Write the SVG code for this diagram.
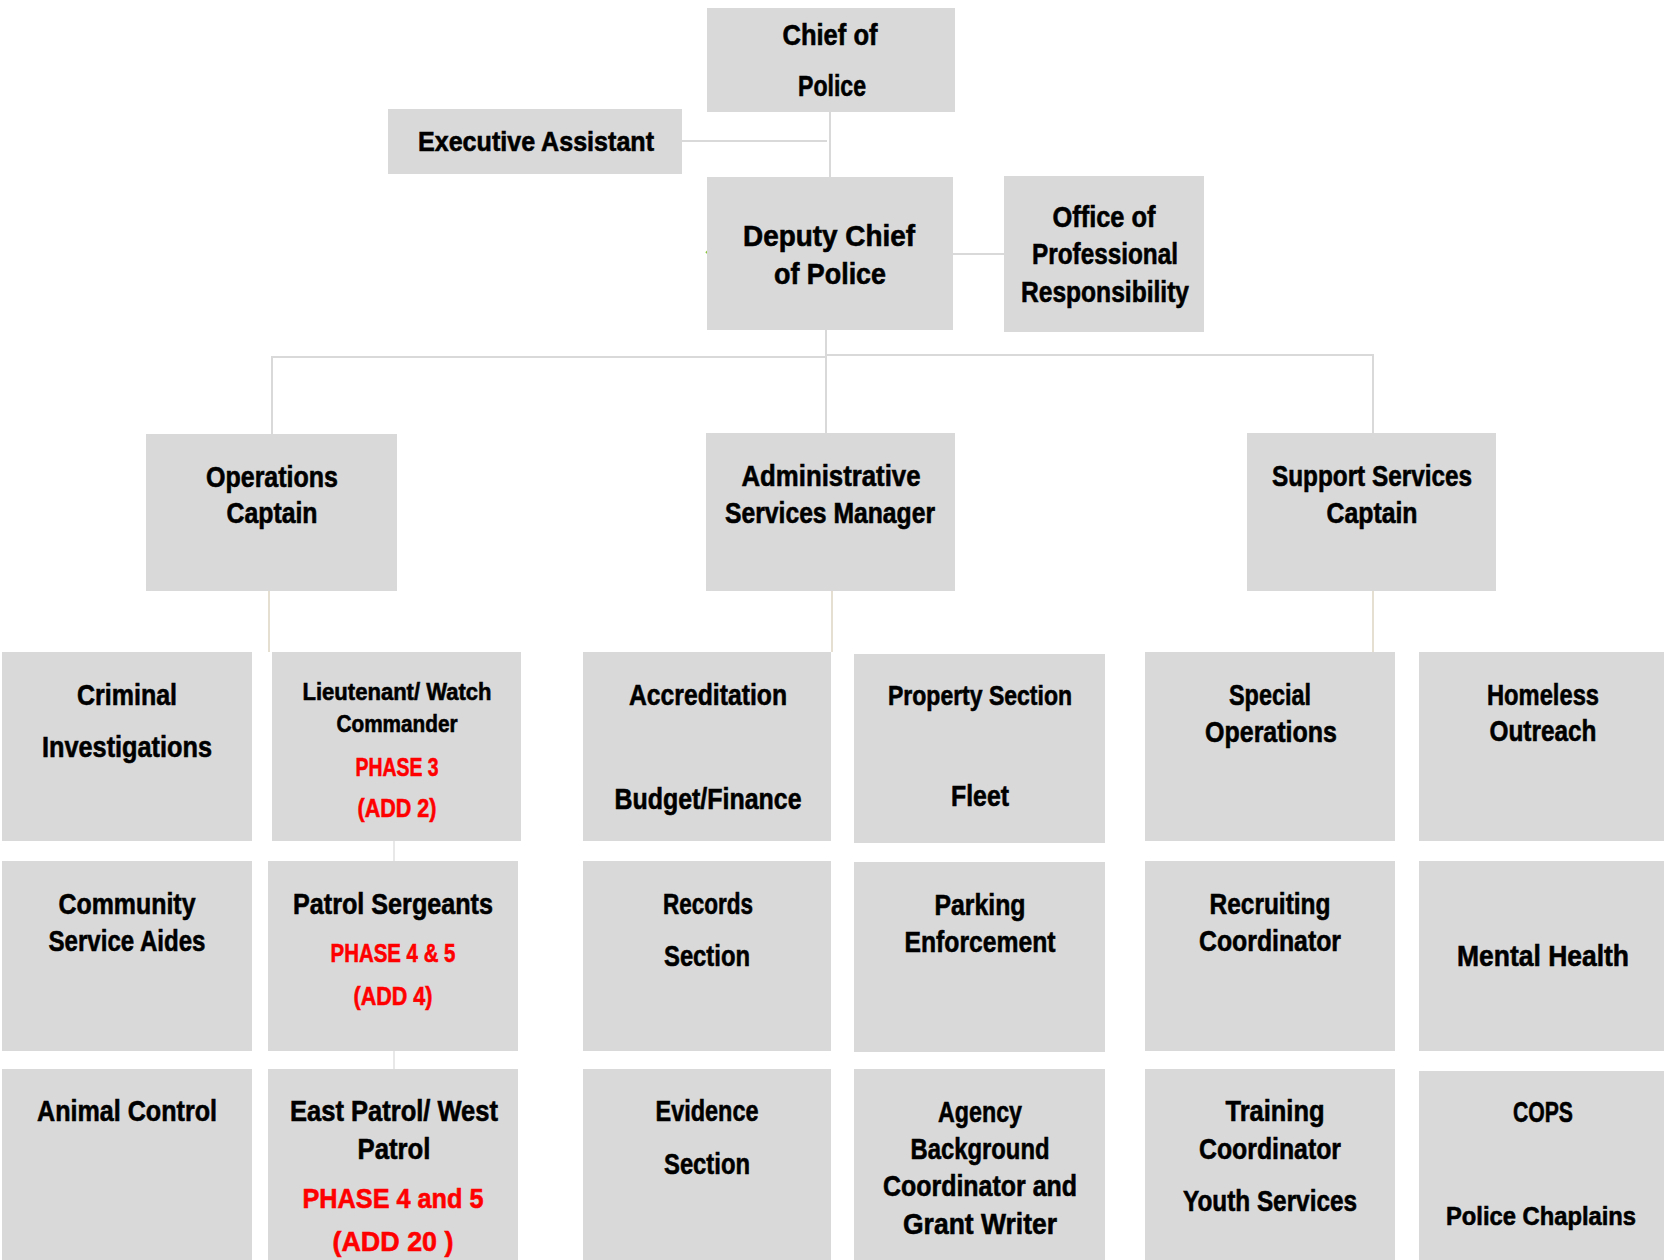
<svg xmlns="http://www.w3.org/2000/svg" width="1664" height="1260" viewBox="0 0 1664 1260">
<style>
.box{fill:#D9D9D9}
.ln{stroke:#D9D9D9;stroke-width:2;fill:none}
.lb{stroke:#E4DFD1;stroke-width:2;fill:none}
.lf{stroke:#E8E8E8;stroke-width:2;fill:none}
text{font-family:"Liberation Sans Narrow","Liberation Sans",Arial,sans-serif;font-weight:bold;text-anchor:middle;fill:#000;stroke:#000;stroke-width:0.6}
.top{font-size:29px}
.low{font-size:30px;font-family:"Liberation Sans",Arial,sans-serif}
.sm{font-size:24px;font-family:"Liberation Sans",Arial,sans-serif}
.rd{font-size:26px;font-family:"Liberation Sans",Arial,sans-serif;fill:#FF0000;stroke:#FF0000}
.rd2{font-size:28px;font-family:"Liberation Sans",Arial,sans-serif;fill:#FF0000;stroke:#FF0000}
</style>
<rect width="1664" height="1260" fill="#FFFFFF"/>
<g id="connectors">
<line class="ln" x1="830" y1="112" x2="830" y2="177"/>
<line class="ln" x1="682" y1="141" x2="827" y2="141"/>
<line class="ln" x1="953" y1="254" x2="1004" y2="254"/>
<line class="ln" x1="826" y1="330" x2="826" y2="433"/>
<polyline class="ln" points="272,434 272,357 826,357"/>
<polyline class="ln" points="826,355 1373,355 1373,433"/>
<line class="lb" x1="269" y1="591" x2="269" y2="652"/>
<line class="lb" x1="832" y1="591" x2="832" y2="652"/>
<line class="lb" x1="1373" y1="591" x2="1373" y2="652"/>
<line class="lf" x1="394" y1="841" x2="394" y2="861"/>
<line class="lf" x1="394" y1="1051" x2="394" y2="1069"/>
<line x1="706" y1="253" x2="716" y2="243" stroke="#8CC63F" stroke-width="2"/>
</g>
<g id="chief"><rect class="box" x="707" y="8" width="248" height="104"/>
<text class="top" x="830" y="45" textLength="95" lengthAdjust="spacingAndGlyphs">Chief of</text>
<text class="top" x="832" y="96" textLength="68" lengthAdjust="spacingAndGlyphs">Police</text></g>
<g id="exec"><rect class="box" x="388" y="109" width="294" height="65"/>
<text class="top" style="font-size:27px" x="536" y="151" textLength="236" lengthAdjust="spacingAndGlyphs">Executive Assistant</text></g>
<g id="deputy"><rect class="box" x="707" y="177" width="246" height="153"/>
<text class="top" x="829" y="246" textLength="172" lengthAdjust="spacingAndGlyphs">Deputy Chief</text>
<text class="top" x="830" y="284" textLength="112" lengthAdjust="spacingAndGlyphs">of Police</text></g>
<g id="opr"><rect class="box" x="1004" y="176" width="200" height="156"/>
<text class="top" x="1104" y="227" textLength="103" lengthAdjust="spacingAndGlyphs">Office of</text>
<text class="top" x="1105" y="264" textLength="146" lengthAdjust="spacingAndGlyphs">Professional</text>
<text class="top" x="1105" y="302" textLength="168" lengthAdjust="spacingAndGlyphs">Responsibility</text></g>
<g id="ops"><rect class="box" x="146" y="434" width="251" height="157"/>
<text class="top" x="272" y="487" textLength="132" lengthAdjust="spacingAndGlyphs">Operations</text>
<text class="top" x="272" y="523" textLength="91" lengthAdjust="spacingAndGlyphs">Captain</text></g>
<g id="admin"><rect class="box" x="706" y="433" width="249" height="158"/>
<text class="top" x="831" y="486" textLength="179" lengthAdjust="spacingAndGlyphs">Administrative</text>
<text class="top" x="830" y="523" textLength="210" lengthAdjust="spacingAndGlyphs">Services Manager</text></g>
<g id="support"><rect class="box" x="1247" y="433" width="249" height="158"/>
<text class="top" x="1372" y="486" textLength="200" lengthAdjust="spacingAndGlyphs">Support Services</text>
<text class="top" x="1372" y="523" textLength="91" lengthAdjust="spacingAndGlyphs">Captain</text></g>

<g id="criminal"><rect class="box" x="2" y="652" width="250" height="189"/>
<text class="low" x="127" y="705" textLength="100" lengthAdjust="spacingAndGlyphs">Criminal</text>
<text class="low" x="127" y="757" textLength="170" lengthAdjust="spacingAndGlyphs">Investigations</text></g>
<g id="lieutenant"><rect class="box" x="272" y="652" width="249" height="189"/>
<text class="sm" x="397" y="700" textLength="189" lengthAdjust="spacingAndGlyphs">Lieutenant/ Watch</text>
<text class="sm" x="397" y="732" textLength="121" lengthAdjust="spacingAndGlyphs">Commander</text>
<text class="rd" x="397" y="776" textLength="83" lengthAdjust="spacingAndGlyphs">PHASE 3</text>
<text class="rd" x="397" y="817" textLength="79" lengthAdjust="spacingAndGlyphs">(ADD 2)</text></g>
<g id="accreditation"><rect class="box" x="583" y="652" width="248" height="189"/>
<text class="low" x="708" y="705" textLength="158" lengthAdjust="spacingAndGlyphs">Accreditation</text>
<text class="low" x="708" y="809" textLength="187" lengthAdjust="spacingAndGlyphs">Budget/Finance</text></g>
<g id="property"><rect class="box" x="854" y="654" width="251" height="189"/>
<text class="low" style="font-size:28px" x="980" y="705" textLength="184" lengthAdjust="spacingAndGlyphs">Property Section</text>
<text class="low" x="980" y="806" textLength="58" lengthAdjust="spacingAndGlyphs">Fleet</text></g>
<g id="special"><rect class="box" x="1145" y="652" width="250" height="189"/>
<text class="low" x="1270" y="705" textLength="82" lengthAdjust="spacingAndGlyphs">Special</text>
<text class="low" x="1271" y="742" textLength="132" lengthAdjust="spacingAndGlyphs">Operations</text></g>
<g id="homeless"><rect class="box" x="1419" y="652" width="245" height="189"/>
<text class="low" x="1543" y="705" textLength="112" lengthAdjust="spacingAndGlyphs">Homeless</text>
<text class="low" x="1543" y="741" textLength="107" lengthAdjust="spacingAndGlyphs">Outreach</text></g>

<g id="community"><rect class="box" x="2" y="861" width="250" height="190"/>
<text class="low" x="127" y="914" textLength="137" lengthAdjust="spacingAndGlyphs">Community</text>
<text class="low" x="127" y="951" textLength="157" lengthAdjust="spacingAndGlyphs">Service Aides</text></g>
<g id="sergeants"><rect class="box" x="268" y="861" width="250" height="190"/>
<text class="low" x="393" y="914" textLength="200" lengthAdjust="spacingAndGlyphs">Patrol Sergeants</text>
<text class="rd" x="393" y="962" textLength="125" lengthAdjust="spacingAndGlyphs">PHASE 4 &amp; 5</text>
<text class="rd" x="393" y="1005" textLength="79" lengthAdjust="spacingAndGlyphs">(ADD 4)</text></g>
<g id="records"><rect class="box" x="583" y="861" width="248" height="190"/>
<text class="low" x="708" y="914" textLength="90" lengthAdjust="spacingAndGlyphs">Records</text>
<text class="low" x="707" y="966" textLength="86" lengthAdjust="spacingAndGlyphs">Section</text></g>
<g id="parking"><rect class="box" x="854" y="862" width="251" height="190"/>
<text class="low" x="980" y="915" textLength="91" lengthAdjust="spacingAndGlyphs">Parking</text>
<text class="low" x="980" y="952" textLength="151" lengthAdjust="spacingAndGlyphs">Enforcement</text></g>
<g id="recruiting"><rect class="box" x="1145" y="861" width="250" height="190"/>
<text class="low" x="1270" y="914" textLength="121" lengthAdjust="spacingAndGlyphs">Recruiting</text>
<text class="low" x="1270" y="951" textLength="142" lengthAdjust="spacingAndGlyphs">Coordinator</text></g>
<g id="mental"><rect class="box" x="1419" y="861" width="245" height="190"/>
<text class="low" x="1543" y="966" textLength="172" lengthAdjust="spacingAndGlyphs">Mental Health</text></g>

<g id="animal"><rect class="box" x="2" y="1069" width="250" height="191"/>
<text class="low" x="127" y="1121" textLength="180" lengthAdjust="spacingAndGlyphs">Animal Control</text></g>
<g id="eastpatrol"><rect class="box" x="268" y="1069" width="250" height="191"/>
<text class="low" x="394" y="1121" textLength="208" lengthAdjust="spacingAndGlyphs">East Patrol/ West</text>
<text class="low" x="394" y="1159" textLength="73" lengthAdjust="spacingAndGlyphs">Patrol</text>
<text class="rd2" x="393" y="1208" textLength="181" lengthAdjust="spacingAndGlyphs">PHASE 4 and 5</text>
<text class="rd2" x="393" y="1251" textLength="121" lengthAdjust="spacingAndGlyphs">(ADD 20 )</text></g>
<g id="evidence"><rect class="box" x="583" y="1069" width="248" height="191"/>
<text class="low" x="707" y="1121" textLength="103" lengthAdjust="spacingAndGlyphs">Evidence</text>
<text class="low" x="707" y="1174" textLength="86" lengthAdjust="spacingAndGlyphs">Section</text></g>
<g id="agency"><rect class="box" x="854" y="1069" width="251" height="191"/>
<text class="low" x="980" y="1122" textLength="84" lengthAdjust="spacingAndGlyphs">Agency</text>
<text class="low" x="980" y="1159" textLength="139" lengthAdjust="spacingAndGlyphs">Background</text>
<text class="low" x="980" y="1196" textLength="194" lengthAdjust="spacingAndGlyphs">Coordinator and</text>
<text class="low" x="980" y="1234" textLength="154" lengthAdjust="spacingAndGlyphs">Grant Writer</text></g>
<g id="training"><rect class="box" x="1145" y="1069" width="250" height="191"/>
<text class="low" x="1275" y="1121" textLength="99" lengthAdjust="spacingAndGlyphs">Training</text>
<text class="low" x="1270" y="1159" textLength="142" lengthAdjust="spacingAndGlyphs">Coordinator</text>
<text class="low" x="1270" y="1211" textLength="174" lengthAdjust="spacingAndGlyphs">Youth Services</text></g>
<g id="cops"><rect class="box" x="1419" y="1071" width="245" height="189"/>
<text class="low" x="1543" y="1122" textLength="60" lengthAdjust="spacingAndGlyphs">COPS</text>
<text class="low" style="font-size:26px" x="1541" y="1225" textLength="190" lengthAdjust="spacingAndGlyphs">Police Chaplains</text></g>
</svg>
